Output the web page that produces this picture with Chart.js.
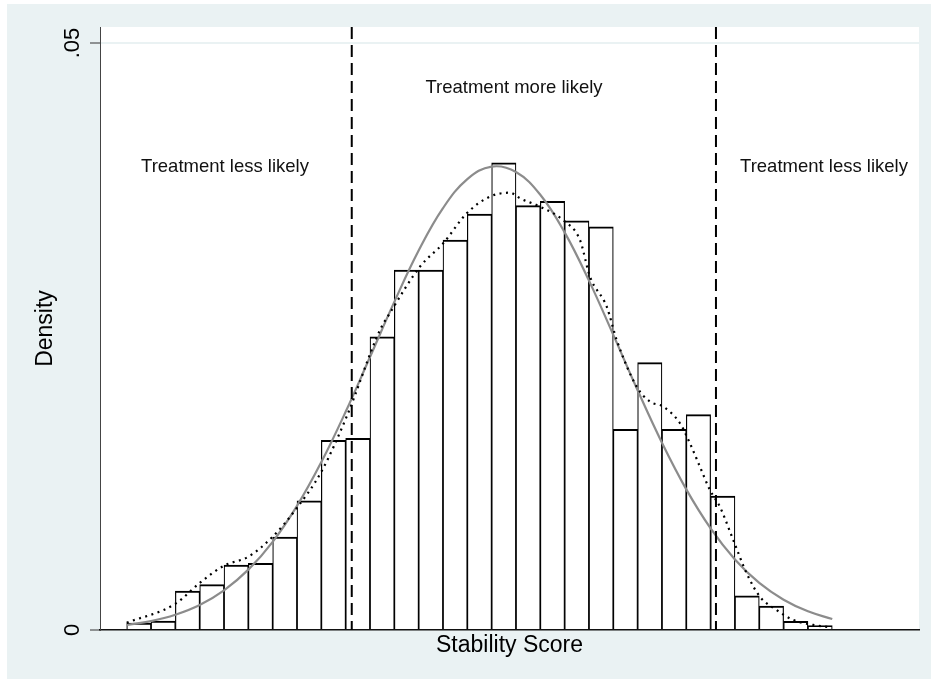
<!DOCTYPE html>
<html><head><meta charset="utf-8">
<script src="https://cdn.jsdelivr.net/npm/chart.js@4.4.1/dist/chart.umd.min.js"></script>
<style>
html,body{margin:0;padding:0;background:#fff;}
#wrap{position:absolute;left:0;top:0;width:931px;height:679px;}
</style>
</head><body>
<div id="wrap"><canvas id="c" width="931" height="679"></canvas></div>
<script>
// ---- data ----
const binStart = 0;
const binWidth = 2;
const densityHeights = [
  0.0006, 0.00077, 0.00332, 0.00386, 0.00554, 0.00568, 0.00792, 0.01101, 0.01616, 0.01633,
  0.02496, 0.03066, 0.03066, 0.03322, 0.03543, 0.0398, 0.03614, 0.03651, 0.03486, 0.03433,
  0.0171, 0.02277, 0.0171, 0.01834, 0.01141, 0.00292, 0.00204, 0.00074, 0.00037
];
const normalX = [0,2,4,6,8,10,12,14,16,18,20,22,24,26,28,30,32,34,36,38,40,42,44,46,48,50,52,54,56,58];
const normalY = [
  0.000425, 0.000758, 0.00130, 0.00213, 0.00338, 0.00514, 0.00751, 0.01057, 0.01430, 0.01859,
  0.02325, 0.02795, 0.03232, 0.03593, 0.03840, 0.03947, 0.03901, 0.03707, 0.03387, 0.02976,
  0.02514, 0.02042, 0.01595, 0.01198, 0.00866, 0.00601, 0.00401, 0.00258, 0.00159, 0.00094
];
const kdeX = [0, 3.97, 6.03, 8.0, 10.0, 12.0, 13.97, 16.0, 18.08, 20.82, 21.64, 24.11, 26.02, 27.95,
  29.86, 31.51, 32.33, 33.97, 35.86, 37.26, 38.08, 39.46, 40.28, 41.92, 43.01, 44.11, 45.48,
  46.30, 47.12, 47.94, 48.76, 49.86, 50.96, 52.05, 53.43, 54.79, 56.44, 57.81];
const kdeY = [0.00062, 0.00221, 0.00403, 0.00548, 0.00624, 0.00795, 0.01037, 0.01348, 0.01817, 0.02555,
  0.0270, 0.03095, 0.03294, 0.03549, 0.03691, 0.03725, 0.03677, 0.03606, 0.03492, 0.03322,
  0.0301, 0.02754, 0.02470, 0.02073, 0.01945, 0.01902, 0.01761, 0.0159, 0.01391, 0.01193,
  0.01050, 0.00767, 0.00483, 0.00284, 0.00170, 0.00085, 0.00043, 0.00023];
const cutoffs = [18.5, 48.44];
const yTickValues = [0, 0.05];
const yTickLabels = ['0', '.05'];
const regionLabels = ['Treatment less likely', 'Treatment more likely', 'Treatment less likely'];
const regionLabelX = [8.08, 31.84, 57.32];
const regionLabelY = [0.03944, 0.04617, 0.03944];
const xTitle = 'Stability Score';
const yTitle = 'Density';
const xMin = -2.195, xMax = 65.13;
const yMin = 0, yMax = 0.05136;

// ---- build library structures ----
const barData = densityHeights.map((h, i) => ({x: binStart + (i + 0.5) * binWidth, y: h}));
const normalData = normalX.map((x, i) => ({x, y: normalY[i]}));
const kdeData = kdeX.map((x, i) => ({x, y: kdeY[i]}));
const FONT = '"Liberation Sans", Arial, Helvetica, sans-serif';

const bgPlugin = {
  id: 'bg',
  beforeDraw(chart) {
    const {ctx, chartArea: a, width, height} = chart;
    ctx.save();
    ctx.fillStyle = '#ffffff';
    ctx.fillRect(0, 0, width, height);
    ctx.fillStyle = '#eaf2f3';
    ctx.fillRect(7, 4, width - 7, height - 4);
    ctx.fillStyle = '#ffffff';
    ctx.fillRect(a.left, a.top, a.right - a.left, a.bottom - a.top);
    ctx.restore();
  }
};
const labelPlugin = {
  id: 'regionLabels',
  afterDatasetsDraw(chart) {
    const {ctx, scales: {x, y}} = chart;
    ctx.save();
    ctx.font = '18.5px ' + FONT;
    ctx.fillStyle = '#111';
    ctx.textAlign = 'center';
    ctx.textBaseline = 'middle';
    regionLabels.forEach((t, i) => {
      ctx.fillText(t, x.getPixelForValue(regionLabelX[i]), y.getPixelForValue(regionLabelY[i]));
    });
    ctx.restore();
  }
};

const cutoffSets = cutoffs.map(c => ({
  type: 'line',
  data: [{x: c, y: yMax}, {x: c, y: yMin}],
  borderColor: '#000',
  borderWidth: 2,
  borderDash: [12, 6],
  pointRadius: 0,
  fill: false,
  order: 0
}));

new Chart(document.getElementById('c'), {
  type: 'bar',
  data: {
    datasets: [
      {
        type: 'bar',
        data: barData,
        backgroundColor: '#ffffff',
        borderColor: '#000',
        borderWidth: {top: 2, left: 1.2, right: 1.2, bottom: 0},
        borderSkipped: false,
        barPercentage: 1,
        categoryPercentage: 1,
        order: 3
      },
      {
        type: 'line',
        data: normalData,
        borderColor: '#8c8c8c',
        borderWidth: 2.2,
        pointRadius: 0,
        tension: 0.4,
        fill: false,
        order: 2
      },
      {
        type: 'line',
        data: kdeData,
        borderColor: '#000',
        borderWidth: 2.2,
        borderDash: [2, 4.5],
        pointRadius: 0,
        cubicInterpolationMode: 'monotone',
        fill: false,
        order: 1
      },
      ...cutoffSets
    ]
  },
  options: {
    responsive: false,
    devicePixelRatio: 1,
    animation: false,
    events: [],
    layout: {padding: {left: 0, top: 27, right: 12, bottom: 0}},
    plugins: {legend: {display: false}, tooltip: {enabled: false}},
    scales: {
      x: {
        type: 'linear',
        min: xMin, max: xMax,
        offset: false,
        afterFit: s => { s.height = 49; },
        ticks: {display: false},
        grid: {display: false, drawTicks: false, offset: false},
        border: {display: true, color: '#111', width: 1.4},
        title: {display: true, text: xTitle, color: '#000',
          font: {family: FONT, size: 23}, padding: {top: 0, bottom: 20}}
      },
      y: {
        type: 'linear',
        min: yMin, max: yMax,
        afterBuildTicks: s => { s.ticks = yTickValues.map(v => ({value: v})); },
        afterFit: s => { s.width = 100; },
        ticks: {
          minRotation: 90, maxRotation: 90, crossAlign: 'center', padding: 2,
          color: '#000', font: {family: FONT, size: 22},
          callback: (v, i) => yTickLabels[i]
        },
        grid: {
          color: c => (c.tick && c.tick.value === 0) ? 'rgba(0,0,0,0)' : '#eaf2f3',
          lineWidth: 2, tickColor: '#333', tickLength: 10, tickWidth: 1, drawTicks: true
        },
        border: {display: true, color: '#444', width: 1},
        title: {display: true, text: yTitle, color: '#000',
          font: {family: FONT, size: 23}, padding: {top: 32, bottom: 0}}
      }
    }
  },
  plugins: [bgPlugin, labelPlugin]
});
</script>
</body></html>
